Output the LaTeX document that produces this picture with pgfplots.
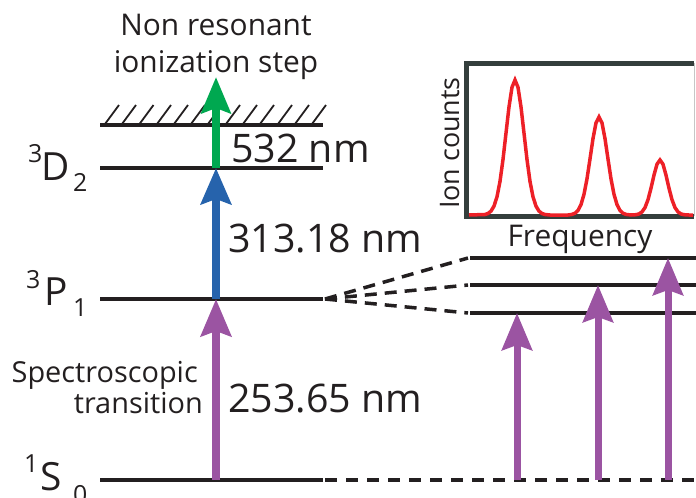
\documentclass[border=0pt]{standalone}
\usepackage{pgfplots}
\pgfplotsset{compat=1.18}
\usepackage{fontspec}
\setmainfont{Open Sans}
\usetikzlibrary{arrows.meta}
\definecolor{ink}{RGB}{35,31,32}
\definecolor{pur}{RGB}{155,84,162}
\definecolor{blu}{RGB}{38,99,172}
\definecolor{grn}{RGB}{0,168,80}
\definecolor{redc}{RGB}{237,32,39}
\definecolor{frm}{RGB}{52,62,60}
\begin{document}
\begin{tikzpicture}
\useasboundingbox (0,0) rectangle (696bp,498bp);
\begin{axis}[at={(0,0)},anchor=south west,x=1bp,y=1bp,xmin=0,xmax=696,ymin=0,ymax=498,y dir=reverse,
  hide axis,clip=false,scale only axis,unbounded coords=jump]
% hatching
\addplot[ink,line width=1.8bp] coordinates {
(105,124)(119,105) (0,nan)
(122,124)(136,105) (0,nan)
(139.5,124)(153.5,105) (0,nan)
(157,124)(171,105) (0,nan)
(174,124)(188,105) (0,nan)
(191,124)(205,105) (0,nan)
(208,124)(222,105) (0,nan)
(226,124)(240,105) (0,nan)
(243,124)(257,105) (0,nan)
(260,124)(274,105) (0,nan)
(278,124)(292,105) (0,nan)
(295,124)(309,105) (0,nan)
(312,124)(326,105)};
% levels
\addplot[ink,line width=4bp] coordinates {(100,480)(323,480)};
\addplot[ink,line width=4bp] coordinates {(100,299)(323,299)};
\addplot[ink,line width=4bp] coordinates {(100,168)(323,168)};
\addplot[ink,line width=4bp] coordinates {(100,125)(323,125)};
% dashed extensions
\addplot[ink,line width=3.5bp,dash pattern=on 12bp off 9bp] coordinates {(325,480)(696,480)};
\addplot[ink,line width=3.5bp,dash pattern=on 12bp off 8bp] coordinates {(325,299)(468,258)};
\addplot[ink,line width=3.5bp,dash pattern=on 12bp off 8bp] coordinates {(325,299)(468,285)};
\addplot[ink,line width=3.5bp,dash pattern=on 12bp off 8bp] coordinates {(325,299)(468,313)};
% sublevels
\addplot[ink,line width=4bp] coordinates {(470,258)(696,258)};
\addplot[ink,line width=4bp] coordinates {(470,285)(696,285)};
\addplot[ink,line width=4bp] coordinates {(470,313)(696,313)};
% arrows
\addplot[pur,line width=8bp,-{Stealth[length=37bp,width=30bp,inset=5bp]}] coordinates {(216,480)(216,299)};
\addplot[blu,line width=8bp,-{Stealth[length=36bp,width=30bp,inset=5bp]}] coordinates {(216,299)(216,168)};
\addplot[grn,line width=8bp,-{Stealth[length=36bp,width=29bp,inset=5bp]}] coordinates {(216,168)(216,77)};
\addplot[pur,line width=7bp,-{Stealth[length=37bp,width=30bp,inset=5bp]}] coordinates {(517,480)(517,313)};
\addplot[pur,line width=7bp,-{Stealth[length=37bp,width=30bp,inset=5bp]}] coordinates {(598,480)(598,285)};
\addplot[pur,line width=7bp,-{Stealth[length=37bp,width=30bp,inset=5bp]}] coordinates {(668,480)(668,258)};
% inset frame
\addplot[gray!45,line width=1bp] coordinates {(694,63)(694,216)};
\addplot[frm,line width=5bp] coordinates {(694,63)(466,63)(466,216)(694,216)};
% spectrum
\addplot[redc,line width=3.5bp] coordinates {
(469,215)(485,214.5)(488,213.5)(491,211.1)(494,206.1)(497,196.8)(500,181.4)(503,159.5)(506,133.1)(509,106.9)(512,87.3)(515,80)
(518,87.3)(521,106.9)(524,133.1)(527,159.5)(530,181.4)(533,196.8)(536,206.1)(539,211.1)(542,213.5)(545,214.5)(550,215)
(568,215)(572,214.4)(575,213.2)(578,210.4)(581,204.6)(584,194.3)(587,178.8)(590,159.0)(593,138.6)(596,122.9)(599,117)
(602,122.9)(605,138.6)(608,159.0)(611,178.8)(614,194.3)(617,204.6)(620,210.4)(623,213.2)(626,214.4)(631,215)
(636,214.7)(639,213.9)(642,211.9)(645,207.6)(648,199.7)(651,188.2)(654,175.1)(657,164.2)(660,160)
(663,164.2)(666,175.1)(669,188.2)(672,199.7)(675,207.6)(678,211.9)(681,213.9)(684,214.7)(689,215)(693,215)};
% texts
\node[ink,anchor=base,inner sep=0pt,font=\fontsize{30}{30}\selectfont] at (axis cs:216,35) {Non resonant};
\node[ink,anchor=base,inner sep=0pt,font=\fontsize{30}{30}\selectfont] at (axis cs:216,72) {ionization step};
\node[ink,anchor=base west,inner sep=0pt,font=\fontsize{39.5}{39.5}\selectfont] at (axis cs:231,162) {532 nm};
\node[ink,anchor=base west,inner sep=0pt,font=\fontsize{39.5}{39.5}\selectfont] at (axis cs:228,252) {313.18 nm};
\node[ink,anchor=base west,inner sep=0pt,font=\fontsize{39.5}{39.5}\selectfont] at (axis cs:228,412) {253.65 nm};
\node[ink,anchor=base east,inner sep=0pt,font=\fontsize{29}{29}\selectfont] at (axis cs:198,382) {Spectroscopic};
\node[ink,anchor=base east,inner sep=0pt,font=\fontsize{29}{29}\selectfont] at (axis cs:203,413) {transition};
% term symbols
\node[ink,anchor=base west,inner sep=0pt,font=\fontsize{25}{25}\selectfont] at (axis cs:28,162) {3};
\node[ink,anchor=base west,inner sep=0pt,font=\fontsize{39}{39}\selectfont] at (axis cs:41,180) {D};
\node[ink,anchor=base west,inner sep=0pt,font=\fontsize{25}{25}\selectfont] at (axis cs:73,191) {2};
\node[ink,anchor=base west,inner sep=0pt,font=\fontsize{25}{25}\selectfont] at (axis cs:26,288) {3};
\node[ink,anchor=base west,inner sep=0pt,font=\fontsize{39}{39}\selectfont] at (axis cs:44,305) {P};
\node[ink,anchor=base west,inner sep=0pt,font=\fontsize{25}{25}\selectfont] at (axis cs:73,316) {1};
\node[ink,anchor=base west,inner sep=0pt,font=\fontsize{25}{25}\selectfont] at (axis cs:24,472) {1};
\node[ink,anchor=base west,inner sep=0pt,font=\fontsize{39}{39}\selectfont] at (axis cs:40,490) {S};
\node[ink,anchor=base west,inner sep=0pt,font=\fontsize{25}{25}\selectfont] at (axis cs:73,503) {0};
% inset labels
\node[ink,rotate=90,anchor=base,inner sep=0pt,font=\fontsize{27}{27}\selectfont] at (axis cs:459,143) {Ion counts};
\node[ink,anchor=base,inner sep=0pt,font=\fontsize{30}{30}\selectfont] at (axis cs:580,246) {Frequency};
\end{axis}
\end{tikzpicture}
\end{document}
